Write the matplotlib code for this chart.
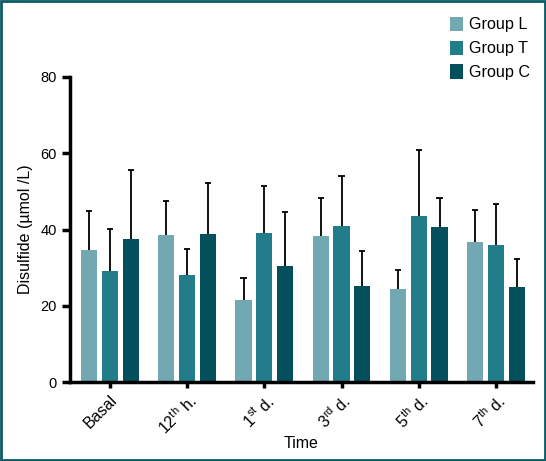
import numpy as np
import matplotlib.pyplot as plt
from matplotlib.patches import Rectangle

plt.rcParams['font.family'] = ['Liberation Sans', 'DejaVu Sans']
plt.rcParams['mathtext.fontset'] = 'custom'
plt.rcParams['mathtext.rm'] = 'Liberation Sans'

# data
time_labels = ["Basal", "12$^{\\mathrm{th}}$ h.", "1$^{\\mathrm{st}}$ d.",
               "3$^{\\mathrm{rd}}$ d.", "5$^{\\mathrm{th}}$ d.", "7$^{\\mathrm{th}}$ d."]
groups = ["Group L", "Group T", "Group C"]
mean_L = [34.6, 38.6, 21.5, 38.3, 24.4, 36.7]
mean_T = [29.1, 28.1, 39.1, 40.9, 43.6, 36.0]
mean_C = [37.5, 38.8, 30.4, 25.2, 40.7, 24.9]
sd_L = [10.4, 8.9, 5.8, 10.0, 5.0, 8.4]
sd_T = [11.1, 6.8, 12.3, 13.2, 17.3, 10.7]
sd_C = [18.1, 13.4, 14.2, 9.2, 7.6, 7.4]
colors = ["#72a8b2", "#217d8a", "#034f5b"]

fig = plt.figure(figsize=(5.46, 4.61), dpi=100)
ax = fig.add_axes([0.128, 0.171, 0.848, 0.662])

x = np.arange(len(time_labels))
offsets = [-0.27, 0.0, 0.27]
width = 0.21
cap = 0.04
for means, sds, off, col, name in zip([mean_L, mean_T, mean_C], [sd_L, sd_T, sd_C],
                                      offsets, colors, groups):
    means = np.array(means)
    sds = np.array(sds)
    ax.bar(x + off, means, width=width, color=col, label=name, zorder=2)
    ax.vlines(x + off, means, means + sds, color="black", lw=1.3, zorder=3)
    ax.hlines(means + sds, x + off - cap, x + off + cap, color="black", lw=1.3, zorder=3)

ax.set_ylim(0, 80)
ax.set_xlim(-0.52, 5.48)
ax.set_yticks([0, 20, 40, 60, 80])
ax.set_xticks(x)
ax.set_xticklabels(time_labels, rotation=45, ha="right", rotation_mode="anchor", fontsize=11.5)
ax.tick_params(axis="y", length=6, width=2.5, labelsize=10.5, colors="black")
ax.tick_params(axis="x", length=4, width=2.5, pad=3)
for s in ["top", "right"]:
    ax.spines[s].set_visible(False)
for s in ["left", "bottom"]:
    ax.spines[s].set_linewidth(2.5)
ax.set_ylabel("Disulfide (\u00b5mol /L)", fontsize=11.5, labelpad=5)
ax.set_xlabel("Time", fontsize=11.5, labelpad=-1)

ax.legend(loc="upper left", bbox_to_anchor=(0.79, 1.245), frameon=False, fontsize=11.6,
          handlelength=0.8, handleheight=1.0, handletextpad=0.4, labelspacing=0.5)

fig.patches.append(Rectangle((0.002, 0.002), 0.996, 0.996, transform=fig.transFigure,
                             fill=False, edgecolor="#0b5a66", lw=2))

fig.savefig("out.png", dpi=100)
